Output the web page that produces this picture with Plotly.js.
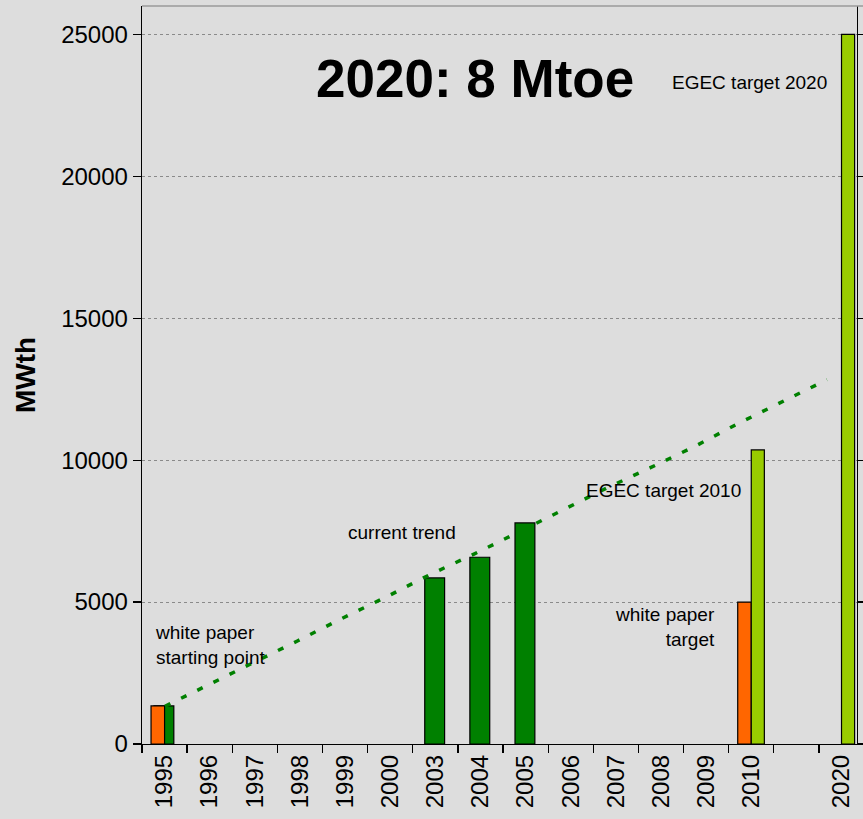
<!DOCTYPE html>
<html>
<head>
<meta charset="utf-8">
<script src="https://cdn.plot.ly/plotly-3.0.1.min.js"></script>
<style>
html,body{margin:0;padding:0;overflow:hidden;background:#dddddd;}
#chart{width:863px;height:819px;}
</style>
</head>
<body>
<div id="chart"></div>
<script>
// Categories on the x axis (one blank slot between 2010 and 2020)
const categories = ["1995","1996","1997","1998","1999","2000","2003","2004","2005","2006","2007","2008","2009","2010"," ","2020"];

// White paper (orange)
const whitePaperX = ["1995","2010"];
const whitePaperY = [1340, 5000];

// Actual installed (dark green)
const actualX = ["1995","2003","2004","2005"];
const actualY = [1340, 5850, 6580, 7790];

// EGEC targets (light green)
const egecX = ["2010","2020"];
const egecY = [10360, 25000];

// Current trend (dotted line), one point per step
const trendStep = [0,1,2,3,4,5,6,7,8,9,10,11,12,13,14,15];
const trendY = [1330, 2090, 2840, 3630, 4415, 5170, 5965, 6690, 7455, 8230, 9010, 9735, 10480, 11300, 12065, 12835];

const yTicks = [0, 5000, 10000, 15000, 20000, 25000];

const FONT = "Liberation Sans, Arial, sans-serif";

const traces = [
  {type:"bar", x:actualX, y:actualY, width:0.44, offset:-0.235,
   marker:{color:"#008000", line:{color:"#000000", width:1.2}}, hoverinfo:"x+y"},
  {type:"bar", x:whitePaperX, y:whitePaperY, width:0.3, offset:-0.3,
   marker:{color:"#ff6600", line:{color:"#000000", width:1.2}}, hoverinfo:"x+y"},
  {type:"bar", x:egecX, y:egecY, width:0.29, offset:0,
   marker:{color:"#99cc00", line:{color:"#000000", width:1.2}}, hoverinfo:"x+y"},
  {type:"scatter", mode:"lines", x:trendStep, y:trendY, xaxis:"x2", yaxis:"y2",
   line:{color:"#008000", width:3.5, dash:"6px,12px"}, hoverinfo:"y"}
];

const layout = {
  width:863, height:819,
  margin:{l:142, r:0, t:6, b:75},
  paper_bgcolor:"#dddddd", plot_bgcolor:"#dddddd",
  showlegend:false,
  barmode:"overlay",
  font:{family:FONT, color:"#000000"},
  xaxis:{
    type:"category", categoryorder:"array", categoryarray:categories,
    tickvals:categories, ticktext:categories,
    range:[-0.5, 15.476],
    tickson:"boundaries", ticks:"outside", ticklen:8, tickcolor:"#000", tickwidth:1.3,
    tickangle:-90, tickfont:{size:24, family:FONT, color:"#000"},
    showline:true, linecolor:"#000", linewidth:1.3,
    showgrid:false, zeroline:false, fixedrange:true
  },
  yaxis:{
    range:[0, 26000], tickvals:yTicks, ticktext:yTicks.map(String),
    ticks:"outside", ticklen:8, tickcolor:"#000", tickwidth:1.3,
    tickfont:{size:24, family:FONT, color:"#000"},
    showline:true, linecolor:"#000", linewidth:1.3,
    showgrid:true, gridcolor:"#8a8a8a", gridwidth:1, griddash:"dot",
    zeroline:false, fixedrange:true
  },
  xaxis2:{overlaying:"x", anchor:"y2", range:[-0.521, 15.817], visible:false, fixedrange:true},
  yaxis2:{
    overlaying:"y", anchor:"free", side:"right", position:0.9917,
    range:[0, 26000], tickvals:yTicks,
    ticks:"outside", ticklen:7, tickcolor:"#000", tickwidth:1.3,
    showticklabels:false, showline:true, linecolor:"#000", linewidth:1.3,
    showgrid:false, zeroline:false, fixedrange:true
  },
  shapes:[
    {type:"line", xref:"paper", yref:"paper", x0:0, x1:1, y0:1, y1:1,
     line:{color:"#9a9a9a", width:1.5}}
  ],
  annotations:[
    {text:"<b>2020: 8 Mtoe</b>", xref:"x", yref:"y", x:6.88, y:23440,
     xanchor:"center", yanchor:"middle", showarrow:false,
     font:{size:53, family:FONT, color:"#000"}},
    {text:"EGEC target 2020", xref:"x", yref:"y", x:11.2, y:23300,
     xanchor:"left", yanchor:"middle", showarrow:false,
     font:{size:19, family:FONT, color:"#000"}},
    {text:"EGEC target 2010", xref:"x", yref:"y", x:9.29, y:8925,
     xanchor:"left", yanchor:"middle", showarrow:false,
     font:{size:19, family:FONT, color:"#000"}},
    {text:"current trend", xref:"x", yref:"y", x:4.01, y:7444,
     xanchor:"left", yanchor:"middle", showarrow:false,
     font:{size:19, family:FONT, color:"#000"}},
    {text:"white paper<br>starting point", xref:"x", yref:"y", x:-0.264, y:3498,
     xanchor:"left", yanchor:"middle", align:"left", showarrow:false,
     font:{size:19, family:FONT, color:"#000"}},
    {text:"white paper<br>target", xref:"x", yref:"y", x:12.25, y:4115,
     xanchor:"right", yanchor:"middle", align:"right", showarrow:false,
     font:{size:19, family:FONT, color:"#000"}},
    {text:"<b>MWth</b>", xref:"paper", yref:"paper", x:-0.1623, y:0.5,
     xanchor:"center", yanchor:"middle", textangle:-90, showarrow:false,
     font:{size:28, family:FONT, color:"#000"}}
  ]
};

Plotly.newPlot("chart", traces, layout, {displayModeBar:false, staticPlot:true});
</script>
</body>
</html>
